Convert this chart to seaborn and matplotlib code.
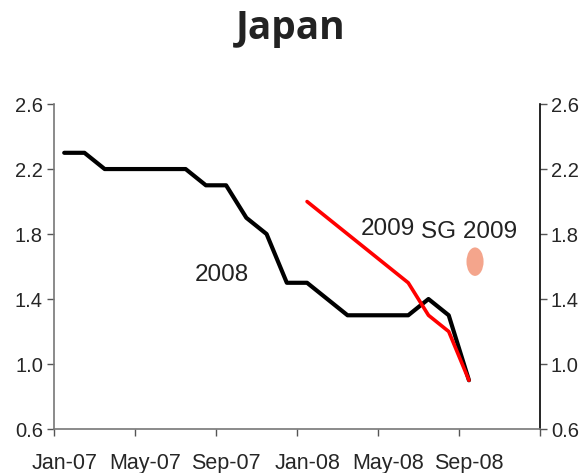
import numpy as np
import pandas as pd
import seaborn as sns
import matplotlib.pyplot as plt
from matplotlib.path import Path
from matplotlib.transforms import Affine2D

# monthly categories Jan-07 .. Dec-08
months = pd.date_range("2007-01-01", "2008-12-01", freq="MS").strftime("%b-%y").tolist()
tick_labels = ["Jan-07", "May-07", "Sep-07", "Jan-08", "May-08", "Sep-08"]

# forecast vintages
fc_2008 = [2.3, 2.3, 2.2, 2.2, 2.2, 2.2, 2.2, 2.1, 2.1, 1.9, 1.8, 1.5,
           1.5, 1.4, 1.3, 1.3, 1.3, 1.3, 1.4, 1.3, 0.9]
fc_2009_months = ["Jan-08", "Feb-08", "Mar-08", "Apr-08", "May-08", "Jun-08",
                  "Jul-08", "Aug-08", "Sep-08"]
fc_2009 = [2.0, 1.9, 1.8, 1.7, 1.6, 1.5, 1.3, 1.2, 0.9]
sg_x = [20.8]
sg_y = [1.63]

pos = {m: i + 0.5 for i, m in enumerate(months)}
df08 = pd.DataFrame({"x": [pos[m] for m in months[:len(fc_2008)]], "y": fc_2008})
df09 = pd.DataFrame({"x": [pos[m] for m in fc_2009_months], "y": fc_2009})

sns.set_style("white")
plt.rcParams["font.family"] = ["Liberation Sans", "DejaVu Sans"]

fig = plt.figure(figsize=(5.88, 4.73), dpi=100)
ax = fig.add_axes([0.092, 0.093, 0.826, 0.687])

sns.lineplot(data=df08, x="x", y="y", color="black", linewidth=3.0, ax=ax)
sns.lineplot(data=df09, x="x", y="y", color="#ff0000", linewidth=2.6, ax=ax)

# vertical ellipse marker for the SG 2009 point
ell = Path.unit_circle().transformed(Affine2D().scale(0.6, 1.0))
ax.scatter(sg_x, sg_y, marker=ell, s=420, color="#f4a58c", edgecolors="none", zorder=3)

ax.text(8.3, 1.55, "2008", fontsize=17.5, ha="center", va="center", color="#222222")
ax.text(16.5, 1.83, "2009", fontsize=17.5, ha="center", va="center", color="#222222")
ax.text(20.5, 1.81, "SG 2009", fontsize=17.5, ha="center", va="center", color="#222222")

ax.set_xlim(0, 24)
ax.set_ylim(0.6, 2.6)
ax.set_yticks([0.6, 1.0, 1.4, 1.8, 2.2, 2.6])
ax.set_yticklabels(["0.6", "1.0", "1.4", "1.8", "2.2", "2.6"])
ax.set_xticks(np.arange(0, 25, 4))
ax.set_xticklabels([])
ax.set_xticks([pos[m] for m in tick_labels], minor=True)
ax.set_xticklabels(tick_labels, minor=True)
ax.tick_params(axis="x", which="major", direction="out", length=5, width=1, color="#555555", bottom=True)
ax.tick_params(axis="x", which="minor", length=0, labelsize=15.5, pad=17)
ax.tick_params(axis="y", direction="out", length=5, width=1, color="#555555", left=True, right=True,
               labelleft=True, labelright=True, labelsize=14.5, pad=3)
ax.set_xlabel("")
ax.set_ylabel("")

for side in ["left", "bottom"]:
    ax.spines[side].set_color("#777777")
    ax.spines[side].set_linewidth(1.2)
ax.spines["right"].set_color("black")
ax.spines["right"].set_linewidth(1.2)
ax.spines["top"].set_visible(False)

fig.text(0.494, 0.94, "Japan", fontsize=28, fontweight="bold", family=["Open Sans", "DejaVu Sans"],
         ha="center", va="center", color="#222222")

fig.savefig("out.png", dpi=100)
